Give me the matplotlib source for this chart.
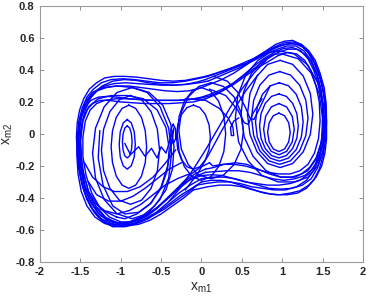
import numpy as np
import matplotlib
matplotlib.use('Agg')
import matplotlib.pyplot as plt

plt.rcParams['font.family'] = ['Liberation Sans', 'DejaVu Sans']

# hand-traced pieces of the trajectory (x_m1, x_m2)
# left halves: lower band at x~0 -> around left scroll -> upper band at x~0
la_x = [0.00, -0.12, -0.25, -0.38, -0.52, -0.66, -0.80, -0.95, -1.10, -1.22, -1.33, -1.42, -1.48, -1.52, -1.54, -1.55, -1.54, -1.51, -1.46, -1.39, -1.30, -1.20, -1.08, -0.95, -0.80, -0.65, -0.50, -0.35, -0.20, -0.05, 0.05]
la_y = [-0.30, -0.34, -0.38, -0.43, -0.48, -0.53, -0.56, -0.58, -0.58, -0.55, -0.49, -0.41, -0.32, -0.22, -0.12, -0.02, 0.07, 0.15, 0.22, 0.28, 0.32, 0.35, 0.36, 0.36, 0.355, 0.345, 0.335, 0.33, 0.335, 0.35, 0.36]
lb_x = [0.00, -0.15, -0.30, -0.45, -0.60, -0.75, -0.90, -1.04, -1.17, -1.29, -1.39, -1.46, -1.50, -1.51, -1.50, -1.47, -1.42, -1.35, -1.26, -1.15, -1.00, -0.85, -0.70, -0.55, -0.40, -0.25, -0.10, 0.05]
lb_y = [-0.26, -0.29, -0.35, -0.42, -0.48, -0.52, -0.55, -0.56, -0.54, -0.49, -0.41, -0.31, -0.20, -0.09, 0.01, 0.09, 0.15, 0.19, 0.21, 0.21, 0.20, 0.195, 0.19, 0.19, 0.19, 0.195, 0.20, 0.22]
lc_x = [0.05, -0.08, -0.22, -0.36, -0.50, -0.64, -0.78, -0.92, -1.06, -1.19, -1.31, -1.40, -1.46, -1.49, -1.50, -1.48, -1.44, -1.38, -1.30, -1.20, -1.08, -0.94, -0.80, -0.65, -0.50, -0.35, -0.20, -0.05, 0.05]
lc_y = [-0.22, -0.25, -0.30, -0.37, -0.44, -0.50, -0.54, -0.56, -0.555, -0.52, -0.45, -0.36, -0.25, -0.14, -0.03, 0.07, 0.15, 0.22, 0.27, 0.30, 0.315, 0.32, 0.315, 0.31, 0.305, 0.305, 0.31, 0.325, 0.34]
ld_x = [-0.05, -0.18, -0.32, -0.46, -0.60, -0.74, -0.88, -1.02, -1.16, -1.28, -1.38, -1.46, -1.51, -1.53, -1.53, -1.50, -1.45, -1.38, -1.29, -1.18, -1.05, -0.90, -0.75, -0.60, -0.45, -0.30, -0.15, 0.00, 0.10]
ld_y = [-0.32, -0.37, -0.42, -0.47, -0.51, -0.545, -0.565, -0.57, -0.56, -0.52, -0.45, -0.35, -0.24, -0.12, -0.01, 0.09, 0.17, 0.23, 0.27, 0.29, 0.30, 0.30, 0.29, 0.28, 0.27, 0.265, 0.27, 0.29, 0.31]
le_x = [0.10, -0.02, -0.15, -0.28, -0.42, -0.56, -0.70, -0.85, -1.00, -1.14, -1.26, -1.36, -1.43, -1.47, -1.47, -1.44, -1.38, -1.30, -1.20, -1.06, -0.92, -0.78, -0.62, -0.46, -0.30, -0.15, 0.00, 0.12]
le_y = [-0.18, -0.21, -0.26, -0.33, -0.40, -0.47, -0.52, -0.55, -0.55, -0.52, -0.46, -0.37, -0.26, -0.14, -0.02, 0.08, 0.15, 0.19, 0.21, 0.22, 0.22, 0.215, 0.21, 0.21, 0.21, 0.215, 0.225, 0.24]
lf_x = [-0.10, -0.22, -0.36, -0.50, -0.64, -0.78, -0.92, -1.06, -1.20, -1.32, -1.42, -1.49, -1.53, -1.545, -1.54, -1.52, -1.48, -1.42, -1.34, -1.24, -1.12, -0.98, -0.83, -0.68, -0.52, -0.36, -0.20, -0.05, 0.08]
lf_y = [-0.35, -0.40, -0.45, -0.50, -0.54, -0.565, -0.575, -0.575, -0.56, -0.52, -0.45, -0.36, -0.25, -0.13, -0.02, 0.08, 0.16, 0.23, 0.28, 0.32, 0.34, 0.345, 0.34, 0.33, 0.32, 0.32, 0.33, 0.345, 0.36]
lg_x = [0.05, -0.10, -0.25, -0.40, -0.55, -0.70, -0.84, -0.98, -1.12, -1.25, -1.36, -1.44, -1.49, -1.52, -1.52, -1.49, -1.44, -1.37, -1.28, -1.17, -1.04, -0.90, -0.75, -0.60, -0.45, -0.30, -0.15, 0.00, 0.12]
lg_y = [-0.24, -0.27, -0.32, -0.39, -0.46, -0.51, -0.545, -0.56, -0.55, -0.51, -0.44, -0.35, -0.24, -0.12, 0.00, 0.10, 0.17, 0.21, 0.23, 0.235, 0.23, 0.22, 0.215, 0.21, 0.21, 0.21, 0.215, 0.23, 0.25]
lh_x = [0.00, -0.14, -0.28, -0.42, -0.56, -0.70, -0.84, -0.98, -1.12, -1.24, -1.35, -1.43, -1.49, -1.52, -1.53, -1.51, -1.47, -1.41, -1.33, -1.23, -1.10, -0.96, -0.81, -0.66, -0.50, -0.34, -0.18, -0.03, 0.08]
lh_y = [-0.28, -0.32, -0.37, -0.43, -0.49, -0.53, -0.56, -0.57, -0.56, -0.53, -0.47, -0.39, -0.29, -0.17, -0.05, 0.06, 0.14, 0.21, 0.26, 0.30, 0.33, 0.34, 0.335, 0.32, 0.31, 0.305, 0.31, 0.32, 0.33]

# right halves: upper band at x~0 -> around right scroll -> lower band at x~0
ra_x = [0.05, 0.18, 0.30, 0.42, 0.55, 0.68, 0.80, 0.92, 1.03, 1.13, 1.23, 1.32, 1.40, 1.46, 1.51, 1.54, 1.55, 1.55, 1.53, 1.49, 1.42, 1.33, 1.22, 1.10, 0.97, 0.85, 0.72, 0.60, 0.48, 0.36, 0.24, 0.12, 0.00]
ra_y = [0.36, 0.38, 0.40, 0.42, 0.44, 0.48, 0.52, 0.56, 0.58, 0.585, 0.56, 0.51, 0.44, 0.36, 0.27, 0.17, 0.07, -0.03, -0.12, -0.20, -0.27, -0.32, -0.355, -0.37, -0.38, -0.375, -0.36, -0.34, -0.32, -0.30, -0.29, -0.29, -0.30]
rb_x = [0.05, 0.20, 0.35, 0.50, 0.64, 0.77, 0.90, 1.02, 1.13, 1.23, 1.32, 1.39, 1.45, 1.49, 1.51, 1.50, 1.47, 1.41, 1.33, 1.22, 1.10, 0.96, 0.82, 0.68, 0.54, 0.40, 0.26, 0.13, 0.00]
rb_y = [0.22, 0.25, 0.30, 0.36, 0.42, 0.47, 0.51, 0.535, 0.54, 0.52, 0.47, 0.40, 0.31, 0.21, 0.10, -0.01, -0.11, -0.19, -0.25, -0.29, -0.31, -0.32, -0.32, -0.31, -0.30, -0.28, -0.26, -0.255, -0.26]
rc_x = [0.05, 0.20, 0.35, 0.50, 0.65, 0.80, 0.94, 1.06, 1.17, 1.27, 1.36, 1.43, 1.48, 1.51, 1.51, 1.48, 1.42, 1.34, 1.24, 1.12, 0.98, 0.84, 0.70, 0.56, 0.42, 0.28, 0.15, 0.05]
rc_y = [0.34, 0.37, 0.40, 0.43, 0.46, 0.50, 0.53, 0.55, 0.55, 0.52, 0.46, 0.38, 0.28, 0.17, 0.05, -0.06, -0.15, -0.21, -0.25, -0.27, -0.27, -0.25, -0.22, -0.19, -0.18, -0.19, -0.21, -0.22]
rd_x = [0.10, 0.25, 0.40, 0.55, 0.70, 0.84, 0.97, 1.09, 1.20, 1.30, 1.38, 1.45, 1.50, 1.53, 1.53, 1.51, 1.46, 1.39, 1.30, 1.18, 1.04, 0.90, 0.76, 0.62, 0.48, 0.34, 0.20, 0.05, -0.05]
rd_y = [0.31, 0.34, 0.38, 0.43, 0.48, 0.52, 0.55, 0.565, 0.56, 0.53, 0.47, 0.39, 0.30, 0.19, 0.07, -0.05, -0.15, -0.23, -0.29, -0.33, -0.35, -0.35, -0.34, -0.33, -0.31, -0.30, -0.30, -0.31, -0.32]
re_x = [0.12, 0.26, 0.40, 0.54, 0.68, 0.82, 0.95, 1.07, 1.18, 1.28, 1.36, 1.42, 1.46, 1.47, 1.45, 1.40, 1.32, 1.22, 1.10, 0.96, 0.82, 0.68, 0.54, 0.40, 0.27, 0.14, 0.10]
re_y = [0.24, 0.27, 0.31, 0.36, 0.41, 0.45, 0.49, 0.51, 0.50, 0.46, 0.39, 0.30, 0.20, 0.08, -0.03, -0.12, -0.19, -0.23, -0.25, -0.25, -0.24, -0.22, -0.20, -0.19, -0.19, -0.20, -0.18]
rf_x = [0.08, 0.22, 0.36, 0.50, 0.64, 0.78, 0.91, 1.03, 1.14, 1.24, 1.33, 1.41, 1.47, 1.52, 1.545, 1.55, 1.54, 1.51, 1.46, 1.39, 1.30, 1.19, 1.06, 0.92, 0.78, 0.64, 0.50, 0.36, 0.22, 0.08, -0.10]
rf_y = [0.36, 0.385, 0.41, 0.44, 0.47, 0.51, 0.545, 0.57, 0.575, 0.56, 0.52, 0.46, 0.38, 0.29, 0.19, 0.08, -0.03, -0.13, -0.22, -0.29, -0.34, -0.37, -0.38, -0.38, -0.37, -0.35, -0.33, -0.32, -0.32, -0.33, -0.35]
rg_x = [0.12, 0.26, 0.40, 0.54, 0.68, 0.82, 0.95, 1.07, 1.18, 1.28, 1.36, 1.43, 1.48, 1.51, 1.52, 1.50, 1.45, 1.38, 1.28, 1.16, 1.02, 0.88, 0.74, 0.60, 0.46, 0.32, 0.18, 0.05]
rg_y = [0.25, 0.28, 0.32, 0.37, 0.42, 0.47, 0.51, 0.53, 0.53, 0.50, 0.45, 0.37, 0.28, 0.17, 0.05, -0.07, -0.16, -0.22, -0.26, -0.28, -0.29, -0.28, -0.26, -0.24, -0.23, -0.23, -0.235, -0.24]
rh_x = [0.08, 0.22, 0.36, 0.50, 0.64, 0.78, 0.92, 1.04, 1.15, 1.25, 1.34, 1.42, 1.48, 1.52, 1.54, 1.53, 1.50, 1.44, 1.36, 1.25, 1.12, 0.98, 0.84, 0.70, 0.56, 0.42, 0.28, 0.14, 0.00]
rh_y = [0.33, 0.36, 0.39, 0.42, 0.46, 0.50, 0.54, 0.56, 0.565, 0.545, 0.50, 0.43, 0.34, 0.23, 0.11, -0.01, -0.12, -0.21, -0.28, -0.32, -0.34, -0.345, -0.34, -0.32, -0.30, -0.28, -0.27, -0.27, -0.28]

# loops that stay around one scroll
lo1_x = [-1.00, -1.18, -1.33, -1.44, -1.50, -1.52, -1.50, -1.44, -1.35, -1.22, -1.05, -0.85, -0.65, -0.48, -0.38, -0.34, -0.36, -0.44, -0.58, -0.75, -0.90, -1.00]
lo1_y = [-0.56, -0.53, -0.45, -0.33, -0.18, -0.03, 0.10, 0.20, 0.26, 0.29, 0.30, 0.29, 0.26, 0.18, 0.06, -0.08, -0.22, -0.35, -0.45, -0.52, -0.56, -0.56]
lo2_x = [-1.05, -1.25, -1.40, -1.48, -1.50, -1.47, -1.40, -1.28, -1.12, -0.92, -0.72, -0.55, -0.44, -0.40, -0.42, -0.50, -0.64, -0.80, -0.95, -1.05]
lo2_y = [-0.52, -0.47, -0.36, -0.21, -0.05, 0.08, 0.17, 0.22, 0.24, 0.24, 0.22, 0.15, 0.04, -0.09, -0.22, -0.34, -0.44, -0.50, -0.53, -0.52]
ro1_x = [0.95, 1.15, 1.32, 1.44, 1.51, 1.53, 1.51, 1.44, 1.32, 1.15, 0.95, 0.75, 0.58, 0.46, 0.42, 0.45, 0.55, 0.70, 0.85, 0.95]
ro1_y = [0.52, 0.50, 0.43, 0.32, 0.18, 0.03, -0.10, -0.20, -0.27, -0.30, -0.30, -0.26, -0.17, -0.05, 0.10, 0.24, 0.37, 0.46, 0.51, 0.52]
ro2_x = [1.00, 1.20, 1.36, 1.46, 1.50, 1.49, 1.43, 1.32, 1.16, 0.98, 0.80, 0.64, 0.53, 0.49, 0.52, 0.62, 0.76, 0.90, 1.00]
ro2_y = [0.50, 0.47, 0.38, 0.25, 0.10, -0.04, -0.15, -0.23, -0.27, -0.27, -0.23, -0.14, -0.02, 0.12, 0.26, 0.38, 0.46, 0.50, 0.50]

# spiral turns inside the right scroll
r1_x = [0.96, 1.03, 1.081, 1.10, 1.081, 1.03, 0.96, 0.89, 0.839, 0.82, 0.839, 0.89, 0.96]
r1_y = [0.13, 0.114, 0.07, 0.01, -0.05, -0.094, -0.11, -0.094, -0.05, 0.01, 0.07, 0.114, 0.13]
r2_x = [0.96, 1.055, 1.125, 1.15, 1.125, 1.055, 0.96, 0.865, 0.795, 0.77, 0.795, 0.865, 0.96]
r2_y = [0.19, 0.169, 0.11, 0.03, -0.05, -0.109, -0.13, -0.109, -0.05, 0.03, 0.11, 0.169, 0.19]
r3_x = [0.96, 1.052, 1.13, 1.182, 1.20, 1.182, 1.13, 1.052, 0.96, 0.868, 0.79, 0.738, 0.72, 0.738, 0.79, 0.868, 0.96]
r3_y = [0.25, 0.235, 0.191, 0.127, 0.05, -0.027, -0.091, -0.135, -0.15, -0.135, -0.091, -0.027, 0.05, 0.127, 0.191, 0.235, 0.25]
r4_x = [0.965, 1.078, 1.174, 1.238, 1.26, 1.238, 1.174, 1.078, 0.965, 0.852, 0.756, 0.692, 0.67, 0.692, 0.756, 0.852, 0.965]
r4_y = [0.32, 0.301, 0.248, 0.169, 0.075, -0.019, -0.098, -0.151, -0.17, -0.151, -0.098, -0.019, 0.075, 0.169, 0.248, 0.301, 0.32]
r5_x = [0.97, 1.104, 1.217, 1.293, 1.32, 1.293, 1.217, 1.104, 0.97, 0.836, 0.723, 0.647, 0.62, 0.647, 0.723, 0.836, 0.97]
r5_y = [0.39, 0.368, 0.305, 0.211, 0.10, -0.011, -0.105, -0.168, -0.19, -0.168, -0.105, -0.011, 0.10, 0.211, 0.305, 0.368, 0.39]
r6_x = [0.975, 1.13, 1.261, 1.349, 1.38, 1.349, 1.261, 1.13, 0.975, 0.82, 0.689, 0.601, 0.57, 0.601, 0.689, 0.82, 0.975]
r6_y = [0.46, 0.435, 0.362, 0.253, 0.125, -0.003, -0.112, -0.185, -0.21, -0.185, -0.112, -0.003, 0.125, 0.253, 0.362, 0.435, 0.46]

# spiral turns inside the left scroll
l0_x = [-0.92, -0.89, -0.868, -0.86, -0.868, -0.89, -0.92, -0.95, -0.972, -0.98, -0.972, -0.95, -0.92]
l0_y = [0.05, 0.037, 0.0, -0.05, -0.10, -0.137, -0.15, -0.137, -0.10, -0.05, 0.0, 0.037, 0.05]
l1_x = [-0.92, -0.87, -0.833, -0.82, -0.833, -0.87, -0.92, -0.97, -1.007, -1.02, -1.007, -0.97, -0.92]
l1_y = [0.09, 0.069, 0.013, -0.065, -0.143, -0.199, -0.22, -0.199, -0.143, -0.065, 0.013, 0.069, 0.09]
l3_x = [-0.90, -0.816, -0.744, -0.697, -0.68, -0.697, -0.744, -0.816, -0.90, -0.984, -1.056, -1.103, -1.12, -1.103, -1.056, -0.984, -0.90]
l3_y = [0.18, 0.16, 0.104, 0.02, -0.08, -0.18, -0.264, -0.32, -0.34, -0.32, -0.264, -0.18, -0.08, 0.02, 0.104, 0.16, 0.18]
l4_x = [-0.88, -0.742, -0.625, -0.547, -0.52, -0.547, -0.625, -0.742, -0.88, -1.018, -1.135, -1.213, -1.24, -1.213, -1.135, -1.018, -0.88]
l4_y = [0.24, 0.214, 0.14, 0.03, -0.10, -0.23, -0.34, -0.414, -0.44, -0.414, -0.34, -0.23, -0.10, 0.03, 0.14, 0.214, 0.24]
l5_x = [-0.86, -0.672, -0.514, -0.407, -0.37, -0.407, -0.514, -0.672, -0.86, -1.048, -1.206, -1.313, -1.35, -1.313, -1.206, -1.048, -0.86]
l5_y = [0.29, 0.259, 0.17, 0.037, -0.12, -0.277, -0.41, -0.499, -0.53, -0.499, -0.41, -0.277, -0.12, 0.037, 0.17, 0.259, 0.29]
zig_x = [-0.95, -0.88, -0.78, -0.70, -0.62, -0.55, -0.50, -0.44, -0.38, -0.34, -0.37, -0.42, -0.50, -0.62, -0.78, -0.95, -1.10, -1.22, -1.28, -1.26]
zig_y = [-0.06, -0.13, -0.08, -0.14, -0.09, -0.15, -0.08, -0.12, -0.02, 0.04, -0.06, -0.20, -0.33, -0.43, -0.49, -0.50, -0.45, -0.32, -0.15, 0.02]

# arcs crossing the lower part of the left scroll
g1_x = [-1.40, -1.30, -1.15, -1.00, -0.85, -0.70, -0.55, -0.40, -0.25]
g1_y = [-0.30, -0.38, -0.42, -0.42, -0.39, -0.34, -0.28, -0.22, -0.18]
g2_x = [-1.35, -1.20, -1.05, -0.90, -0.75, -0.60, -0.45, -0.30, -0.15]
g2_y = [-0.42, -0.48, -0.50, -0.48, -0.44, -0.38, -0.32, -0.28, -0.25]
g3_x = [-1.45, -1.35, -1.22, -1.08, -0.92, -0.76, -0.60, -0.46, -0.32]
g3_y = [-0.18, -0.27, -0.33, -0.36, -0.36, -0.33, -0.27, -0.19, -0.10]

# diagonal strands through the middle
d1_x = [-0.40, -0.25, -0.10, 0.05, 0.20, 0.35, 0.50, 0.65, 0.80]
d1_y = [-0.42, -0.33, -0.22, -0.10, 0.03, 0.16, 0.28, 0.38, 0.46]
d2_x = [-0.20, -0.05, 0.10, 0.25, 0.40, 0.55, 0.70]
d2_y = [-0.35, -0.25, -0.12, 0.02, 0.15, 0.27, 0.37]

# turns around the middle
m1_x = [-0.10, -0.02, 0.048, 0.094, 0.11, 0.094, 0.048, -0.02, -0.10, -0.18, -0.248, -0.294, -0.31, -0.294, -0.248, -0.18, -0.10]
m1_y = [0.18, 0.165, 0.121, 0.057, -0.02, -0.097, -0.161, -0.205, -0.22, -0.205, -0.161, -0.097, -0.02, 0.057, 0.121, 0.165, 0.18]
m2_x = [0.0, 0.115, 0.212, 0.277, 0.30, 0.277, 0.212, 0.115, 0.0, -0.115, -0.212, -0.277, -0.30, -0.277, -0.212, -0.115, 0.0]
m2_y = [0.29, 0.268, 0.205, 0.111, 0.0, -0.111, -0.205, -0.268, -0.29, -0.268, -0.205, -0.111, 0.0, 0.111, 0.205, 0.268, 0.29]
m3_x = [0.12, 0.273, 0.403, 0.49, 0.52, 0.49, 0.403, 0.273, 0.12, -0.033, -0.163, -0.25, -0.28, -0.25, -0.163, -0.033, 0.12]
m3_y = [0.32, 0.297, 0.232, 0.135, 0.02, -0.095, -0.192, -0.257, -0.28, -0.257, -0.192, -0.095, 0.02, 0.135, 0.232, 0.297, 0.32]
small_x = [-0.35, -0.32, -0.32, -0.35, -0.38, -0.38, -0.35]
small_y = [0.06, 0.03, -0.03, -0.06, -0.03, 0.03, 0.06]

# hooks falling off the upper band
h1_x = [-0.20, 0.05, 0.22, 0.33, 0.39, 0.40, 0.37, 0.36, 0.40, 0.46]
h1_y = [0.22, 0.21, 0.16, 0.10, 0.04, -0.01, -0.01, 0.04, 0.08, 0.10]
h2_x = [0.10, 0.30, 0.45, 0.53, 0.58, 0.64, 0.75]
h2_y = [0.28, 0.24, 0.15, 0.07, 0.06, 0.13, 0.22]
h3_x = [0.15, 0.32, 0.45, 0.55, 0.60, 0.65, 0.72, 0.85]
h3_y = [0.36, 0.33, 0.26, 0.16, 0.10, 0.09, 0.16, 0.30]

xs = [la_x, lb_x, lc_x, ld_x, le_x, lf_x, lg_x, lh_x,
      ra_x, rb_x, rc_x, rd_x, re_x, rf_x, rg_x, rh_x,
      lo1_x, lo2_x, ro1_x, ro2_x,
      r1_x, r2_x, r3_x, r4_x, r5_x, r6_x, l0_x, l1_x, l3_x, l4_x, l5_x, zig_x,
      g1_x, g2_x, g3_x, d1_x, d2_x,
      m1_x, m2_x, m3_x, small_x, h1_x, h2_x, h3_x]
ys = [la_y, lb_y, lc_y, ld_y, le_y, lf_y, lg_y, lh_y,
      ra_y, rb_y, rc_y, rd_y, re_y, rf_y, rg_y, rh_y,
      lo1_y, lo2_y, ro1_y, ro2_y,
      r1_y, r2_y, r3_y, r4_y, r5_y, r6_y, l0_y, l1_y, l3_y, l4_y, l5_y, zig_y,
      g1_y, g2_y, g3_y, d1_y, d2_y,
      m1_y, m2_y, m3_y, small_y, h1_y, h2_y, h3_y]

fig = plt.figure(figsize=(3.68, 3.0), dpi=100)
ax = fig.add_axes([0.109, 0.127, 0.877, 0.853])
for x, y in zip(xs, ys):
    ax.plot(x, y, color='#0000ff', lw=1.0, solid_joinstyle='round')

ax.set_xlim(-2, 2)
ax.set_ylim(-0.8, 0.8)
ax.set_xticks(np.arange(-2, 2.01, 0.5))
ax.set_xticklabels(['-2', '-1.5', '-1', '-0.5', '0', '0.5', '1', '1.5', '2'])
ax.set_yticks(np.arange(-0.8, 0.81, 0.2))
ax.set_yticklabels(['-0.8', '-0.6', '-0.4', '-0.2', '0', '0.2', '0.4', '0.6', '0.8'])
ax.tick_params(direction='in', top=True, right=True, length=3, width=0.6,
               color='#808080', labelsize=8, labelcolor='#262626', pad=4)
for lab in ax.get_xticklabels() + ax.get_yticklabels():
    lab.set_fontweight('bold')
for s in ax.spines.values():
    s.set_color('#9a9a9a')
    s.set_linewidth(0.8)
ax.set_xlabel(r'$\mathregular{x_{m1}}$', fontsize=10, color='#262626', labelpad=2)
ax.set_ylabel(r'$\mathregular{x_{m2}}$', fontsize=10, color='#262626', labelpad=0)

fig.savefig('out.png', dpi=100)
